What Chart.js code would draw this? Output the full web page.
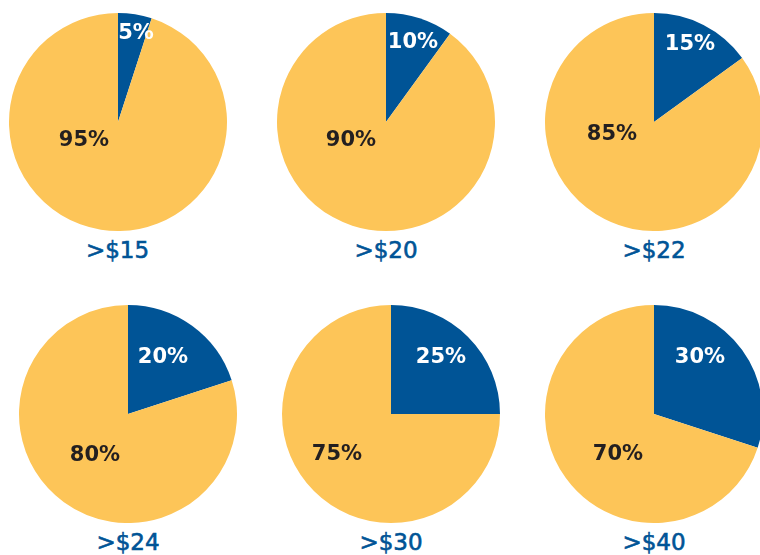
<!DOCTYPE html>
<html>
<head>
<meta charset="utf-8">
<script src="https://cdn.jsdelivr.net/npm/chart.js@4/dist/chart.umd.min.js"></script>
<style>
  html, body { margin: 0; padding: 0; background: #fff; overflow: hidden; }
  body { width: 760px; height: 555px; position: relative; }
  .pie { position: absolute; }
  .pie canvas { display: block; }
  .title { position: absolute; width: 160px; text-align: center; font: 23px "DejaVu Sans", sans-serif; color: #005496; line-height: 23px; -webkit-text-stroke: 0.6px #005496; }
</style>
</head>
<body>
<script>
// data
const thresholds = ['>$15', '>$20', '>$22', '>$24', '>$30', '>$40'];
const aboveShare = [5, 10, 15, 20, 25, 30];
const belowShare = [95, 90, 85, 80, 75, 70];

// layout
const centers = [[117.5, 122], [386, 122], [654, 122], [128, 414], [391, 414], [654, 414]];
const aboveLabelOff = [[18, -88], [27, -79], [36, -77], [35, -56], [50, -56], [46, -56]];
const belowLabelOff = [[-34, 19], [-35, 19], [-42, 13], [-33, 42], [-54, 41], [-36, 41]];
const R = 109;
const BLUE = '#005496', GOLD = '#FDC558';

const pctLabels = {
  id: 'pctLabels',
  afterDatasetsDraw(chart, args, opts) {
    const arc = chart.getDatasetMeta(0).data[0];
    const cx = arc.x, cy = arc.y;
    const d = chart.ctx;
    d.save();
    d.font = 'bold 21px "DejaVu Sans", sans-serif';
    d.textAlign = 'center';
    d.textBaseline = 'middle';
    const vals = chart.data.datasets[0].data;
    d.fillStyle = '#ffffff';
    d.fillText(vals[0] + '%', cx + opts.above[0], cy + opts.above[1]);
    d.fillStyle = '#231f20';
    d.fillText(vals[1] + '%', cx + opts.below[0], cy + opts.below[1]);
    d.restore();
  }
};

thresholds.forEach((t, i) => {
  const [cx, cy] = centers[i];
  const box = document.createElement('div');
  box.className = 'pie';
  box.style.left = (cx - R) + 'px';
  box.style.top = (cy - R) + 'px';
  const c = document.createElement('canvas');
  c.width = R * 2; c.height = R * 2;
  box.appendChild(c);
  document.body.appendChild(box);

  const title = document.createElement('div');
  title.className = 'title';
  title.textContent = t;
  title.style.left = (cx - 80) + 'px';
  title.style.top = (cy + R + 8) + 'px';
  document.body.appendChild(title);

  new Chart(c, {
    type: 'pie',
    data: {
      labels: ['Above', 'Below'],
      datasets: [{
        data: [aboveShare[i], belowShare[i]],
        backgroundColor: [BLUE, GOLD],
        borderWidth: 0
      }]
    },
    options: {
      responsive: false,
      animation: false,
      layout: { padding: 0 },
      plugins: {
        legend: { display: false },
        tooltip: { enabled: false },
        pctLabels: { above: aboveLabelOff[i], below: belowLabelOff[i] }
      }
    },
    plugins: [pctLabels]
  });
});
</script>
</body>
</html>
